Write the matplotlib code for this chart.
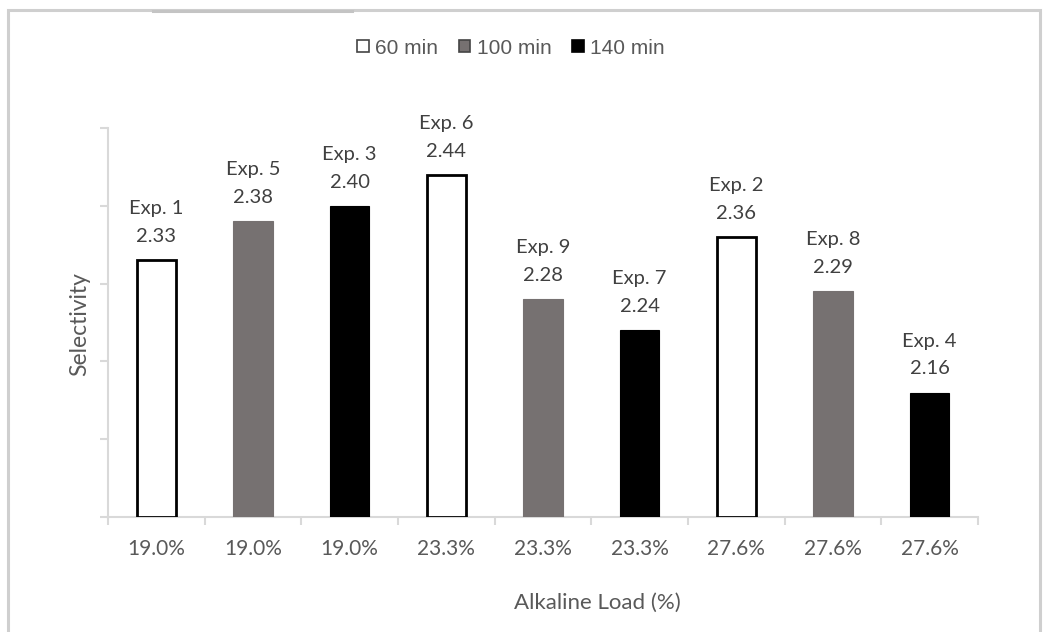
import matplotlib
matplotlib.use("Agg")
import matplotlib.pyplot as plt
from matplotlib.patches import Rectangle
from matplotlib.lines import Line2D

categories = ["19.0%", "19.0%", "19.0%", "23.3%", "23.3%", "23.3%", "27.6%", "27.6%", "27.6%"]
experiments = ["Exp. 1", "Exp. 5", "Exp. 3", "Exp. 6", "Exp. 9", "Exp. 7", "Exp. 2", "Exp. 8", "Exp. 4"]
selectivity = [2.33, 2.38, 2.40, 2.44, 2.28, 2.24, 2.36, 2.29, 2.16]
times = ["60 min", "100 min", "140 min", "60 min", "100 min", "140 min", "60 min", "100 min", "140 min"]
legend_labels = ["60 min", "100 min", "140 min"]

face = {"60 min": "white", "100 min": "#767171", "140 min": "black"}
edge = {"60 min": "black", "100 min": "#767171", "140 min": "black"}

W, H = 1045, 632
fig = plt.figure(figsize=(W / 100, H / 100), dpi=100)
fig.patch.set_facecolor("white")

font = "Lato"
txt = "#595959"
axc = "#d9d9d9"

ax = fig.add_axes([108 / W, (H - 517) / H, (978 - 108) / W, (517 - 128) / H])
x = list(range(len(categories)))
for i, (v, t) in enumerate(zip(selectivity, times)):
    ax.bar(i, v - 2.0, bottom=2.0, width=0.41, facecolor=face[t], edgecolor=edge[t],
           linewidth=2.0 if t == "60 min" else 0.8, zorder=3)
    ax.annotate(experiments[i], (i, v), xytext=(0, 37), textcoords="offset points",
                ha="center", va="center", fontsize=14.5, family=font, color="#404040")
    ax.annotate(f"{v:.2f}", (i, v), xytext=(0, 17), textcoords="offset points",
                ha="center", va="center", fontsize=14.5, family=font, color="#404040")

ax.set_xlim(-0.5, len(categories) - 0.5)
ax.set_ylim(2.0, 2.5)
ax.set_yticks([2.0, 2.1, 2.2, 2.3, 2.4, 2.5])
ax.set_yticklabels([])
ax.set_xticks([i - 0.5 for i in range(len(categories) + 1)])
ax.set_xticklabels([])
ax.set_xticks(x, minor=True)
ax.set_xticklabels(categories, minor=True, fontsize=15, family=font, color=txt)
ax.tick_params(axis="x", which="minor", length=0, pad=16)
ax.tick_params(axis="x", which="major", length=6, width=1.5, color=axc, direction="out")
ax.tick_params(axis="y", length=6, width=1.5, color=axc, direction="out")

for s in ["top", "right"]:
    ax.spines[s].set_visible(False)
for s in ["left", "bottom"]:
    ax.spines[s].set_color(axc)
    ax.spines[s].set_linewidth(1.5)

fig.text(597 / W, 1 - 603 / H, "Alkaline Load (%)", ha="center", va="center",
         fontsize=16, family=font, color=txt)
fig.text(80 / W, 1 - 324 / H, "Selectivity", ha="center", va="center", rotation=90,
         fontsize=16.5, family=font, color=txt)

handles = [Rectangle((0, 0), 1, 1, facecolor=face[l], edgecolor="#444444" if l != "140 min" else "black",
                     linewidth=1.2) for l in legend_labels]
leg = fig.legend(handles, legend_labels, loc="center", bbox_to_anchor=(511 / W, 1 - 48 / H),
                 ncol=3, frameon=False, prop={"family": "Liberation Sans", "size": 15},
                 handlelength=0.55, handleheight=0.55, handletextpad=0.3, columnspacing=1.0)
for t in leg.get_texts():
    t.set_color("#595959")

# outer frame
fig.add_artist(Rectangle((8 / W, -0.05), (1040 - 8) / W, (H - 10) / H + 0.05,
                         transform=fig.transFigure, fill=False, edgecolor="#cfcfcf", linewidth=2.2))
fig.add_artist(Line2D([153 / W, 352 / W], [1 - 11 / H, 1 - 11 / H], transform=fig.transFigure,
                      color="#c4c4c4", linewidth=2.2))

fig.savefig("out.png", dpi=100, facecolor="white")
